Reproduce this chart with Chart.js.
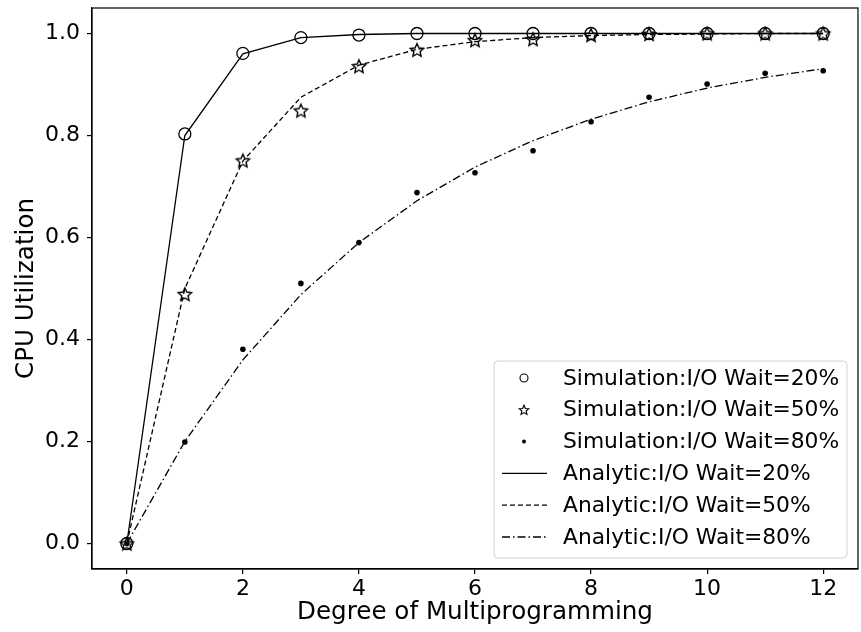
<!DOCTYPE html>
<html>
<head>
<meta charset="utf-8">
<script src="https://cdn.jsdelivr.net/npm/chart.js@4/dist/chart.umd.min.js"></script>
<style>
  html, body { margin: 0; padding: 0; background: #fff; }
  #wrap { width: 861px; height: 632px; }
</style>
</head>
<body>
<div id="wrap"><canvas id="chart" width="861" height="632"></canvas></div>
<script>
const degrees = [0, 1, 2, 3, 4, 5, 6, 7, 8, 9, 10, 11, 12];
const xTicks = [0, 2, 4, 6, 8, 10, 12];
const yTicks = [0, 0.2, 0.4, 0.6, 0.8, 1.0];

// simulation points
const sim20 = [0, 0.803, 0.961, 0.992, 0.997, 1.0, 1.0, 1.0, 1.0, 1.0, 1.0, 1.0, 1.0];
const sim50 = [0, 0.489, 0.751, 0.849, 0.936, 0.968, 0.987, 0.989, 0.997, 0.999, 1.0, 1.0, 1.0];
const sim80 = [0, 0.199, 0.381, 0.51, 0.59, 0.688, 0.727, 0.77, 0.827, 0.875, 0.901, 0.922, 0.927];

// analytic curves
const ana20 = [0, 0.8, 0.96, 0.992, 0.998, 1.0, 1.0, 1.0, 1.0, 1.0, 1.0, 1.0, 1.0];
const ana50 = [0, 0.5, 0.75, 0.875, 0.938, 0.969, 0.984, 0.992, 0.996, 0.998, 0.999, 1.0, 1.0];
const ana80 = [0, 0.2, 0.36, 0.488, 0.59, 0.672, 0.738, 0.79, 0.832, 0.866, 0.893, 0.914, 0.931];

const labels = [
    'Simulation:I/O Wait=20%', 'Simulation:I/O Wait=50%', 'Simulation:I/O Wait=80%',
    'Analytic:I/O Wait=20%', 'Analytic:I/O Wait=50%', 'Analytic:I/O Wait=80%'
];

const FONT = '"DejaVu Sans", sans-serif';
const DASH50 = [5, 3];
const DASH80 = [8, 3, 1.5, 3];

function starPath(ctx, cx, cy, r, ratio) {
    const inner = r * ratio;
    ctx.beginPath();
    for (let i = 0; i < 10; i++) {
        const rr = i % 2 === 0 ? r : inner;
        const a = -Math.PI / 2 + i * Math.PI / 5;
        const px = cx + rr * Math.cos(a), py = cy + rr * Math.sin(a);
        if (i === 0) ctx.moveTo(px, py); else ctx.lineTo(px, py);
    }
    ctx.closePath();
}

function makeStar(r, lw) {
    const c = document.createElement('canvas');
    const s = 2 * Math.ceil(r + lw + 1);
    c.width = s; c.height = s;
    const g = c.getContext('2d');
    g.strokeStyle = '#000';
    g.lineWidth = lw;
    g.lineJoin = 'miter';
    starPath(g, s / 2, s / 2 + r * 0.1, r, 0.47);
    g.stroke();
    return c;
}

const starImg = makeStar(7, 1.4);

const pts = (arr) => arr.map((y, i) => ({ x: degrees[i], y }));

const datasets = [
    { label: labels[0], data: pts(sim20), showLine: false, pointStyle: 'circle', pointRadius: 6,
      borderColor: '#000', backgroundColor: 'rgba(0,0,0,0)', pointBorderWidth: 1.3, order: 1 },
    { label: labels[1], data: pts(sim50), showLine: false, pointStyle: starImg, pointRadius: 7,
      borderColor: '#000', backgroundColor: 'rgba(0,0,0,0)', order: 1 },
    { label: labels[2], data: pts(sim80), showLine: false, pointStyle: 'circle', pointRadius: 2.8,
      borderColor: '#000', backgroundColor: '#000', pointBorderWidth: 0, order: 1 },
    { label: labels[3], data: pts(ana20), borderColor: '#000', borderWidth: 1.3, pointRadius: 0, order: 2 },
    { label: labels[4], data: pts(ana50), borderColor: '#000', borderWidth: 1.3, pointRadius: 0, borderDash: DASH50, order: 2 },
    { label: labels[5], data: pts(ana80), borderColor: '#000', borderWidth: 1.3, pointRadius: 0, borderDash: DASH80, order: 2 }
];

const frame = {
    id: 'frame',
    afterDatasetsDraw(chart) {
        const a = chart.chartArea, ctx = chart.ctx;
        ctx.save();
        ctx.strokeStyle = '#000';
        ctx.lineWidth = 1.2;
        ctx.strokeRect(a.left, a.top, a.right - a.left, a.bottom - a.top);
        ctx.restore();
    }
};

const boxLegend = {
    id: 'boxLegend',
    afterDraw(chart) {
        const ctx = chart.ctx;
        const x0 = 494, y0 = 361, w = 353, h = 197, rowH = 31.8;
        ctx.save();
        ctx.beginPath();
        ctx.roundRect(x0, y0, w, h, 4);
        ctx.fillStyle = 'rgba(255,255,255,0.85)';
        ctx.fill();
        ctx.strokeStyle = '#d0d0d0';
        ctx.lineWidth = 1;
        ctx.stroke();

        ctx.font = '21.8px ' + FONT;
        ctx.textBaseline = 'middle';
        ctx.fillStyle = '#000';
        ctx.strokeStyle = '#000';
        const mx = 524;
        chart.data.datasets.forEach((ds, i) => {
            const y = 378 + i * rowH;
            ctx.setLineDash([]);
            if (i === 0) {
                ctx.lineWidth = 1.1;
                ctx.beginPath(); ctx.arc(mx, y, 4, 0, Math.PI * 2); ctx.stroke();
            } else if (i === 1) {
                ctx.lineWidth = 1.1;
                starPath(ctx, mx, y + 0.5, 5, 0.45); ctx.stroke();
            } else if (i === 2) {
                ctx.beginPath(); ctx.arc(mx, y, 2, 0, Math.PI * 2); ctx.fill();
            } else {
                ctx.lineWidth = 1.3;
                ctx.setLineDash(ds.borderDash || []);
                ctx.beginPath(); ctx.moveTo(502, y); ctx.lineTo(547, y); ctx.stroke();
            }
            ctx.setLineDash([]);
            ctx.fillText(ds.label, 563, y + 1);
        });
        ctx.restore();
    }
};

function noEdgePadding(s) {
    s.paddingTop = 0; s.paddingBottom = 0; s.paddingLeft = 0; s.paddingRight = 0;
}

new Chart(document.getElementById('chart'), {
    type: 'line',
    data: { datasets },
    plugins: [frame, boxLegend],
    options: {
        responsive: false,
        animation: false,
        layout: { autoPadding: false, padding: { top: 8, right: 3, left: 0, bottom: 0 } },
        plugins: { legend: { display: false }, tooltip: { enabled: false } },
        scales: {
            x: {
                type: 'linear', min: -0.6, max: 12.6,
                afterBuildTicks: (s) => { s.ticks = xTicks.map(v => ({ value: v })); },
                afterFit: (s) => { s.height = 63; noEdgePadding(s); },
                grid: { drawOnChartArea: false, drawTicks: true, tickLength: 5, color: '#000', lineWidth: 1.2 },
                border: { display: true, color: '#000', width: 1.2 },
                ticks: { color: '#000', font: { family: FONT, size: 22 }, padding: 2, maxRotation: 0,
                         callback: (v) => String(v) },
                title: { display: true, text: 'Degree of Multiprogramming', color: '#000',
                         font: { family: FONT, size: 24.6 }, padding: { top: 0, bottom: 5 } }
            },
            y: {
                type: 'linear', min: -0.05, max: 1.05,
                afterBuildTicks: (s) => { s.ticks = yTicks.map(v => ({ value: v })); },
                afterFit: (s) => { s.width = 92; noEdgePadding(s); },
                grid: { drawOnChartArea: false, drawTicks: true, tickLength: 5, color: '#000', lineWidth: 1.2 },
                border: { display: true, color: '#000', width: 1.2 },
                ticks: { color: '#000', font: { family: FONT, size: 22 }, padding: 7,
                         callback: (v) => Number(v).toFixed(1) },
                title: { display: true, text: 'CPU Utilization', color: '#000',
                         font: { family: FONT, size: 24.6 }, padding: { top: 12, bottom: 0 } }
            }
        }
    }
});
</script>
</body>
</html>
